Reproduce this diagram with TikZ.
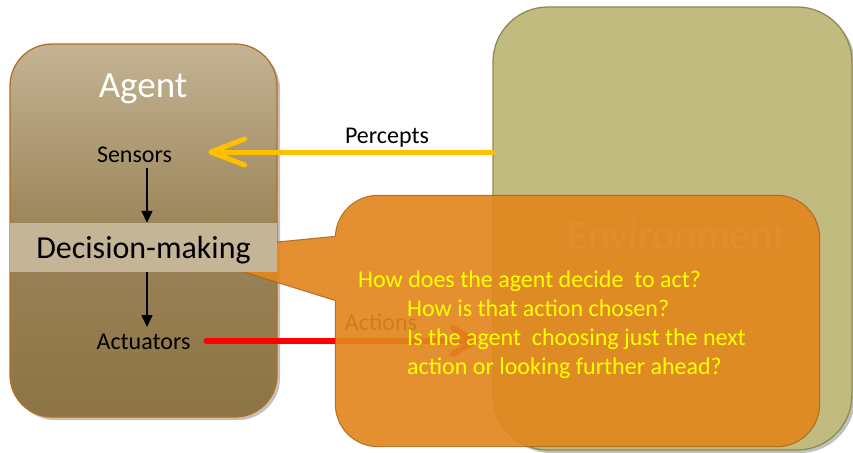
\documentclass[tikz,border=0pt]{standalone}
\usepackage{fontspec}
\setmainfont{Carlito}
\usetikzlibrary{arrows.meta,shadows}

\definecolor{agenttop}{HTML}{C4B493}
\definecolor{agentbot}{HTML}{8D7445}
\definecolor{agentedge}{HTML}{B4701F}
\definecolor{bandfill}{HTML}{C4B597}
\definecolor{envfill}{HTML}{C2BB80}
\definecolor{envedge}{HTML}{8D8A56}
\definecolor{envtext}{HTML}{F4E2B8}
\definecolor{callfill}{HTML}{E2871E}
\definecolor{calledge}{HTML}{B0661A}
\definecolor{percol}{HTML}{FFC000}
\definecolor{qcol}{HTML}{FFFF00}

\tikzset{
  px/.style={font=\fontsize{#1}{#1}\selectfont},
  boxshadow/.style={drop shadow={shadow xshift=3pt, shadow yshift=-3pt, opacity=0.35, fill=black!70}},
  agentbox/.style={rectangle, rounded corners=42pt, draw=agentedge, line width=1.3pt,
    top color=agenttop, bottom color=agentbot, middle color=agentbot!75!agenttop, boxshadow, inner sep=0pt},
  envbox/.style={rectangle, rounded corners=55pt, draw=envedge, line width=1.3pt,
    fill=envfill, boxshadow, inner sep=0pt},
  smalltext/.style={px=24, inner sep=3pt},
  qtext/.style={px=24, text=qcol, anchor=base west, inner sep=0pt},
  downarrow/.style={-{Triangle[length=12pt,width=11pt]}, line width=1.5pt, black},
  chevron/.style={-{Straight Barb[length=#1, width=26pt, round]}, line cap=round},
}

\begin{document}
\begin{tikzpicture}[x=1pt, y=-1pt]
  \useasboundingbox (0,0) rectangle (853,452);

  % agent and environment boxes
  \node[agentbox, minimum width=267pt, minimum height=373pt] (agent) at (143.5,230.5) {};
  \node[envbox, minimum width=359pt, minimum height=443pt] (env) at (672.5,228.5) {};
  \node[px=42, text=envtext] (envlabel) at (677,235) {Environment};

  % percepts and actions
  \node[smalltext] (sensors) at (134.5,155) {Sensors};
  \node[smalltext] (actuators) at (143.5,342) {Actuators};
  \draw[chevron=34pt, percol, line width=5pt, shorten >=33pt]
    (env.west |- 0,152) -- (sensors.east |- 0,152);
  \node[smalltext] (percepts) at (387,138) {Percepts};

  \coordinate (actend) at (478,341);
  \draw[chevron=22pt, red, line width=6pt, shorten <=13pt]
    (actuators.east |- actend) -- (actend);
  \node[smalltext] (actions) at (381,322) {Actions};

  % speech callout pointing at the decision-making band
  \begin{scope}[transparency group, opacity=0.92]
    \path[draw=calledge, line width=2.4pt, rounded corners=42pt] (336,196) rectangle (819,446);
    \path[draw=calledge, line width=2.4pt] (350,235.6) -- (182,252) -- (350,304.4);
    \path[fill=callfill, rounded corners=42pt] (336,196) rectangle (819,446);
    \path[fill=callfill] (182,252) -- (350,235.6) -- (350,304.4) -- cycle;
  \end{scope}

  % inside the agent
  \node[px=37, text=white] (agentlabel) at (143,89) {Agent};
  \node[rectangle, fill=bandfill, minimum width=267pt, minimum height=49pt,
        inner sep=0pt] (dm) at (143.5,247.5) {};
  \node[px=32, inner sep=0pt] (dmlabel) at (143.5,250) {Decision-making};
  \coordinate (axis) at (147,0);
  \draw[downarrow, shorten <=2pt] (sensors.south -| axis) -- (dm.north -| axis);
  \draw[downarrow, shorten >=4pt] (dm.south -| axis) -- (actuators.north -| axis);

  % questions in the callout
  \node[qtext] (q1) at (358,287) {How does the agent decide\ \ to act?};
  \node[qtext] (q2) at (407,316) {How is that action chosen?};
  \node[qtext] (q3) at (407,345) {Is the agent\ \ choosing just the next};
  \node[qtext] (q4) at (407,374) {action or looking further ahead?};
\end{tikzpicture}
\end{document}
